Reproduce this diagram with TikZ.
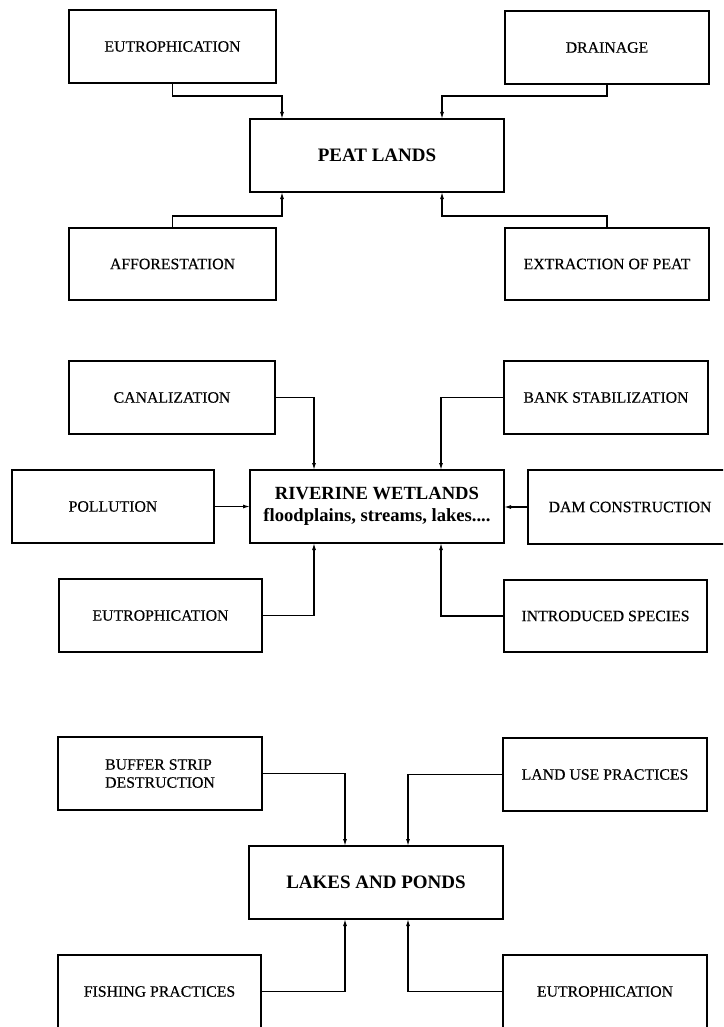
\documentclass[tikz,border=0pt]{standalone}
\usepackage{fontspec}
\setmainfont{Liberation Serif}
\newfontfamily\lblfont[FakeBold=0.4]{Liberation Serif}
\usetikzlibrary{arrows.meta}
\begin{document}
\begin{tikzpicture}[x=1pt,y=-1pt,
  box/.style={draw, line width=1.3pt, inner sep=0pt, outer sep=0pt, align=center, font=\lblfont\fontsize{15.8}{18}\selectfont},
  hub/.style={box, font=\bfseries\fontsize{19}{22}\selectfont},
  arr/.style={line width=1.2pt, -{Latex[length=7pt,width=4pt]}}]
\useasboundingbox (0,0) rectangle (723,1027);
\clip (0,0) rectangle (723,1027);
% ---- Peat lands
\node[box, minimum width=207pt, minimum height=73pt] (e1) at (172.5,46.5) {EUTROPHICATION};
\node[box, minimum width=204pt, minimum height=73pt] (dr) at (607,47.5) {DRAINAGE};
\node[hub, minimum width=254pt, minimum height=73pt] (pl) at (377,155.5) {PEAT LANDS};
\node[box, minimum width=207pt, minimum height=72pt] (af) at (172.5,264) {AFFORESTATION};
\node[box, minimum width=204pt, minimum height=72pt] (ex) at (607,264) {EXTRACTION OF PEAT};
\draw[arr] (e1.south) |- (282,96) -- (pl.north -| 282,0);
\draw[arr] (dr.south) |- (442,96) -- (pl.north -| 442,0);
\draw[arr] (af.north) |- (282,216) -- (pl.south -| 282,0);
\draw[arr] (ex.north) |- (442,216) -- (pl.south -| 442,0);
% ---- Riverine wetlands
\node[box, minimum width=206pt, minimum height=73pt] (ca) at (172,397.5) {CANALIZATION};
\node[box, minimum width=204pt, minimum height=73pt] (bs) at (606,397.5) {BANK STABILIZATION};
\node[box, minimum width=202pt, minimum height=73pt] (po) at (113,506.5) {POLLUTION};
\node[hub, font=\bfseries\fontsize{18.6}{22}\selectfont, minimum width=254pt, minimum height=73pt] (rw) at (377,506.5) {RIVERINE WETLANDS\\floodplains, streams, lakes....};
\node[box, minimum width=204pt, minimum height=74pt] (dc) at (630,507) {DAM CONSTRUCTION};
\node[box, minimum width=203pt, minimum height=73pt] (e2) at (160.5,615.5) {EUTROPHICATION};
\node[box, minimum width=203pt, minimum height=72pt] (is) at (605.5,616) {INTRODUCED SPECIES};
\draw[arr] (ca.east) -| (rw.north -| 314,0);
\draw[arr] (bs.west) -| (rw.north -| 441,0);
\draw[arr] (po.east) -- (rw.west |- po.east);
\draw[arr] (dc.west) -- (rw.east |- dc.west);
\draw[arr] (e2.east) -| (rw.south -| 314,0);
\draw[arr] (is.west) -| (rw.south -| 441,0);
% ---- Lakes and ponds
\node[box, minimum width=204pt, minimum height=73pt, align=left] (bu) at (160,773.5) {BUFFER STRIP\\DESTRUCTION};
\node[box, minimum width=204pt, minimum height=73pt] (lu) at (605,774.5) {LAND USE PRACTICES};
\node[hub, minimum width=254pt, minimum height=73pt] (lp) at (376,882.5) {LAKES AND PONDS};
\node[box, minimum width=203pt, minimum height=73pt] (fi) at (159.5,991.5) {FISHING PRACTICES};
\node[box, minimum width=204pt, minimum height=73pt] (e3) at (605,991.5) {EUTROPHICATION};
\draw[arr] (bu.east) -| (lp.north -| 345,0);
\draw[arr] (lu.west) -| (lp.north -| 408,0);
\draw[arr] (fi.east) -| (lp.south -| 345,0);
\draw[arr] (e3.west) -| (lp.south -| 408,0);
\end{tikzpicture}
\end{document}
